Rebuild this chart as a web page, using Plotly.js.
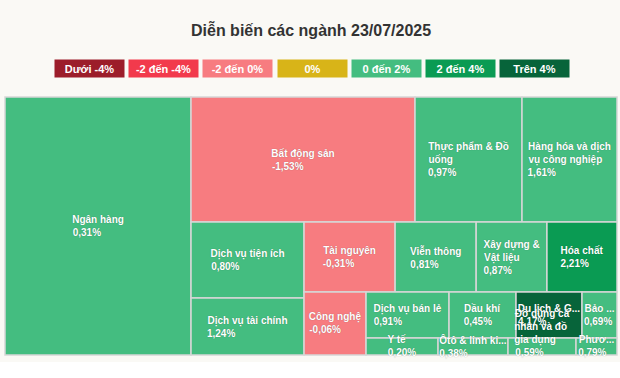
<!DOCTYPE html>
<html><head><meta charset="utf-8">
<script src="https://cdn.plot.ly/plotly-3.0.1.min.js"></script>
<style>html,body{margin:0;padding:0;background:#ffffff;}#chart{width:620px;height:362px;}</style>
</head><body><div id="chart"></div>
<script>
// ---- data ----
const sectors = ["Ngân hàng","Bất động sản","Thực phẩm & Đồ uống","Hàng hóa và dịch vụ công nghiệp","Dịch vụ tiện ích","Dịch vụ tài chính","Tài nguyên","Viễn thông","Xây dựng & Vật liệu","Hóa chất","Công nghệ","Dịch vụ bán lẻ","Dầu khí","Du lịch & Giải trí","Bảo hiểm","Y tế","Ôtô & linh kiện","Đồ dùng cá nhân và đồ gia dụng","Phương tiện truyền thông"];
const shownNames = ["Ngân hàng","Bất động sản","Thực phẩm & Đồ|uống","Hàng hóa và dịch|vụ công nghiệp","Dịch vụ tiện ích","Dịch vụ tài chính","Tài nguyên","Viễn thông","Xây dựng &|Vật liệu","Hóa chất","Công nghệ","Dịch vụ bán lẻ","Dầu khí","Du lịch & G...","Bảo ...","Y tế","Ôtô & linh ki...","Đồ dùng cá|nhân và đồ|gia dụng","Phươ..."];
const sizes = [47988,28000,13375,11875,8588,6441,6370,5670,4950,4900,3906,3818,3082,3036,1610,1224,1190,1156,697];
const changes = [0.31,-1.53,0.97,1.61,0.80,1.24,-0.31,0.81,0.87,2.21,-0.06,0.91,0.45,4.17,0.69,0.20,0.38,0.59,0.79];
const legendLabels = ["Dưới -4%","-2 đến -4%","-2 đến 0%","0%","0 đến 2%","2 đến 4%","Trên 4%"];
const legendColors = ["#9c1d2a","#f23a4c","#f77c80","#d8b418","#44bd80","#0a9b53","#07643a"];

// ---- tiling structure (invisible grouping that reproduces the squarified arrangement) ----
const tree = {id: 'g0', kids: [0, {id: 'g1', kids: [
  {id: 'gTop', kids: [1, 2, 3]},
  {id: 'g2', kids: [
    {id: 'gCol', kids: [4, 5]},
    {id: 'g3', kids: [
      {id: 'gRow', kids: [6, 7, 8, 9]},
      {id: 'g4', kids: [10, {id: 'g5', kids: [
        {id: 'gA', kids: [11, 12, 13, 14]},
        {id: 'gB', kids: [15, 16, 17, 18]}
      ]}]}
    ]}
  ]}
]}]};

const FONT = 'Liberation Sans, Arial, sans-serif';
const FSIZE = 10;

function colorFor(v){
  if (v < -4) return legendColors[0];
  if (v < -2) return legendColors[1];
  if (v < 0) return legendColors[2];
  if (v === 0) return legendColors[3];
  if (v <= 2) return legendColors[4];
  if (v <= 4) return legendColors[5];
  return legendColors[6];
}
const fmt = v => v.toFixed(2).replace('.', ',') + '%';

// left-align the lines of a label block (pad shorter lines with no-break spaces)
const ctx = document.createElement('canvas').getContext('2d');
ctx.font = 'bold ' + FSIZE + 'px "Liberation Sans"';
const nbspW = ctx.measureText('\u00a0').width || 2.78;
function block(lines){
  const w = lines.map(l => ctx.measureText(l).width);
  const mx = Math.max.apply(null, w);
  return lines.map((l, i) => l + '\u00a0'.repeat(Math.max(0, Math.round((mx - w[i]) / nbspW)))).join('<br>');
}

const ids = [], labels = [], parents = [], values = [], texts = [], colors = [], lw = [];
function walk(node, parent){
  if (typeof node === 'number') {
    ids.push(sectors[node]); labels.push(sectors[node]); parents.push(parent);
    values.push(sizes[node]);
    const lines = shownNames[node].split('|').concat([fmt(changes[node])]);
    let t = block(lines);
    if (lines.length > 3) t += '<br>\u00a0<br>\u00a0';   // lift the overflowing label like the reference
    texts.push(t);
    colors.push(colorFor(changes[node])); lw.push(1.5);
  } else {
    ids.push(node.id); labels.push(''); parents.push(parent);
    values.push(0); texts.push(''); colors.push('rgba(0,0,0,0)'); lw.push(0);
    node.kids.forEach(k => walk(k, node.id));
  }
}
walk(tree, '');

const trace = {
  type: 'treemap',
  ids: ids, labels: labels, parents: parents, values: values,
  branchvalues: 'remainder',
  text: texts,
  texttemplate: '%{text}',
  textposition: 'middle center',
  textfont: {family: FONT, size: FSIZE, color: '#ffffff', weight: 'bold', shadow: '0px 0px 1px rgba(0,0,0,0.35)'},
  marker: {colors: colors, line: {color: '#d6d6d6', width: lw}, pad: {t:0,l:0,r:0,b:0}},
  tiling: {packing: 'slice-dice', pad: 0},
  pathbar: {visible: false},
  sort: false,
  hoverinfo: 'none'
};

const annotations = [{
  text: 'Diễn biến các ngành 23/07/2025', xref: 'paper', yref: 'paper', x: 0.5, xanchor: 'center',
  y: 1, yanchor: 'bottom', yshift: 56, showarrow: false,
  font: {family: FONT, size: 16, color: '#333333', weight: 'bold'}
}];
const chipW = 65, chipGap = 9.2, startX = 57;
legendLabels.forEach((lab, i) => {
  annotations.push({
    text: '<b>' + lab + '</b>', xref: 'paper', yref: 'paper',
    x: (startX - 5 + i * (chipW + chipGap) + chipW / 2) / 612, xanchor: 'center',
    y: 1, yanchor: 'bottom', yshift: 19, showarrow: false,
    width: chipW, height: 13, bgcolor: legendColors[i], borderpad: 2,
    font: {family: FONT, size: 11, color: '#ffffff'}
  });
});

Plotly.newPlot('chart', [trace], {
  width: 620, height: 362,
  margin: {l: 5, r: 3, t: 97, b: 7},
  paper_bgcolor: '#faf9f5',
  uniformtext: {mode: 'show', minsize: FSIZE},
  annotations: annotations,
  showlegend: false
}, {displayModeBar: false, staticPlot: true});
</script></body></html>
